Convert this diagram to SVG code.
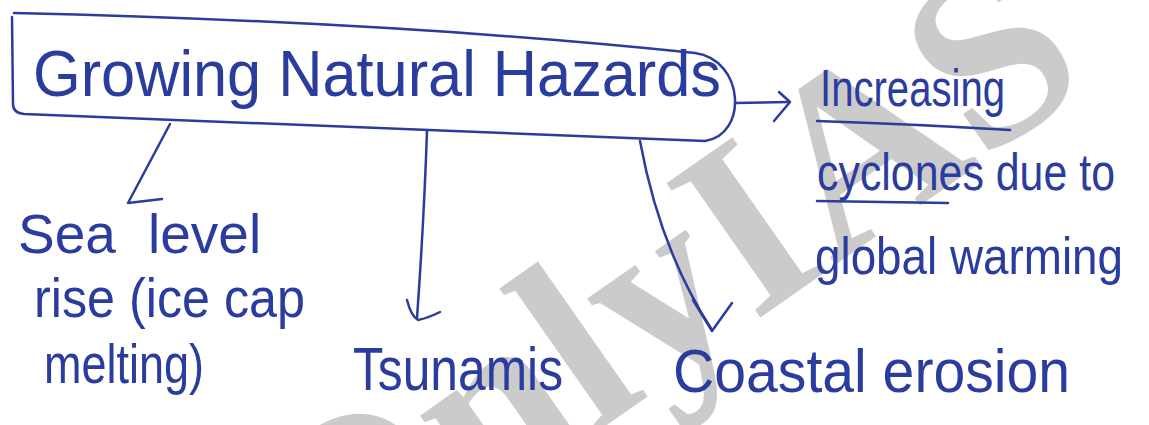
<svg xmlns="http://www.w3.org/2000/svg" width="1149" height="425" viewBox="0 0 1149 425">
  <style>
    .ink { fill: none; stroke: #2b3c9f; stroke-width: 2.5; stroke-linecap: round; stroke-linejoin: round; }
    .hand { font-family: "Liberation Sans", Arial, sans-serif; fill: #2b3c9f; }
    .wm { font-family: "Liberation Serif", "Times New Roman", serif; font-weight: bold; fill: #cbcbcb; }
  </style>
  <rect width="1149" height="425" fill="#ffffff"/>
  <g id="watermark">
    <text class="wm" font-size="250" transform="translate(321,625) rotate(-35)">OnlyIAS</text>
  </g>
  <g id="connectors">
    <path class="ink" d="M 735,103 L 789,102"/>
    <path class="ink" d="M 779,92 L 790,102 L 774,121"/>
    <path class="ink" d="M 170,124 L 128,203 L 162,199"/>
    <path class="ink" d="M 427,131 Q 424,220 417,318"/>
    <path class="ink" d="M 407,300 Q 411,316 418,320 Q 428,318 440,312"/>
    <path class="ink" d="M 640,141 Q 660,250 712,330"/>
    <path class="ink" d="M 693,300 L 712,331 L 732,303"/>
  </g>
  <g id="node-hazards">
    <path class="ink" d="M 14,13 Q 400,22 695,53 C 745,60 748,135 705,141 Q 400,130 24,114 Q 13,113 13,104 L 12,17"/>
    <text class="hand" x="33" y="96" font-size="64" textLength="688" lengthAdjust="spacingAndGlyphs">Growing Natural Hazards</text>
  </g>
  <g id="node-cyclones">
    <text class="hand" x="820" y="106" font-size="52" textLength="185" lengthAdjust="spacingAndGlyphs">Increasing</text>
    <path class="ink" d="M 817,121 Q 910,124 1010,130"/>
    <text class="hand" x="817" y="190" font-size="52" textLength="298" lengthAdjust="spacingAndGlyphs">cyclones due to</text>
    <path class="ink" d="M 817,201 L 948,203"/>
    <text class="hand" x="815" y="274" font-size="52" textLength="308" lengthAdjust="spacingAndGlyphs">global warming</text>
  </g>
  <g id="node-sealevel">
    <text class="hand" y="253" font-size="55"><tspan x="18">Sea</tspan><tspan x="148">level</tspan></text>
    <text class="hand" x="34" y="317" font-size="55" textLength="271" lengthAdjust="spacingAndGlyphs">rise (ice cap</text>
    <text class="hand" x="44" y="383" font-size="55" textLength="160" lengthAdjust="spacingAndGlyphs">melting)</text>
  </g>
  <g id="node-tsunamis">
    <text class="hand" x="353" y="390" font-size="62" textLength="210" lengthAdjust="spacingAndGlyphs">Tsunamis</text>
  </g>
  <g id="node-coastal">
    <text class="hand" x="673" y="392" font-size="62" textLength="397" lengthAdjust="spacingAndGlyphs">Coastal erosion</text>
  </g>
</svg>
